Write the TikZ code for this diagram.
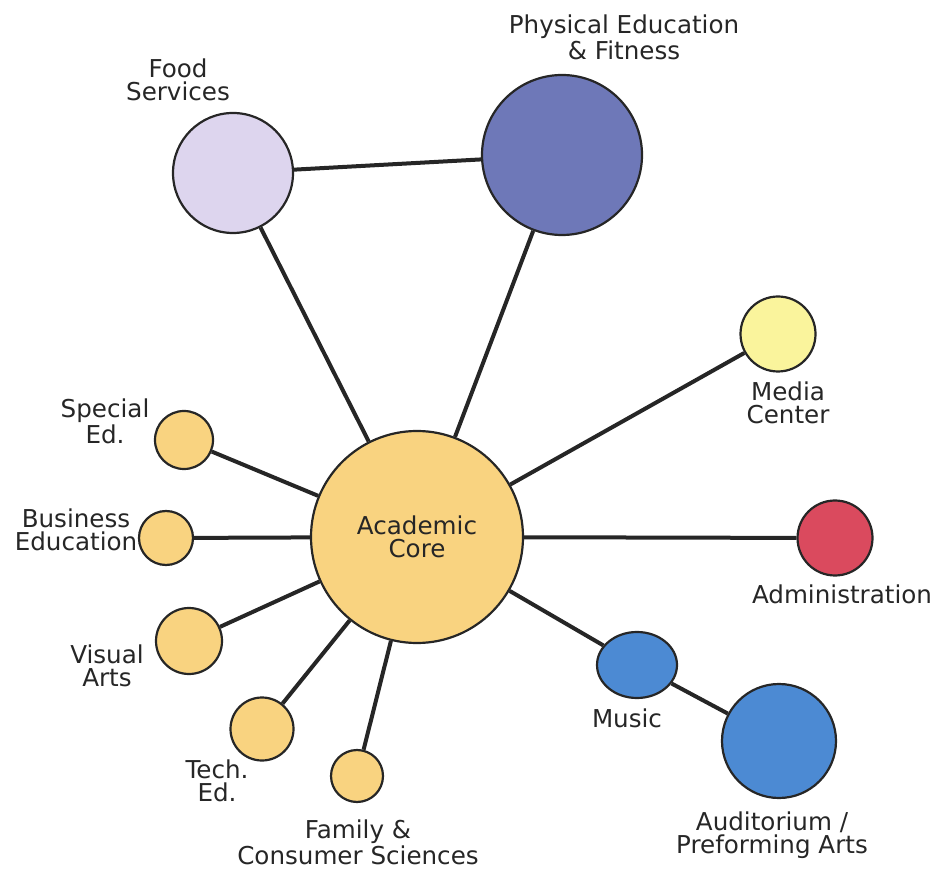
\documentclass[tikz,border=0pt]{standalone}
\usepackage{fontspec}
\setmainfont{DejaVu Sans}
\usetikzlibrary{shapes.geometric}
\definecolor{coreyellow}{RGB}{249,211,128}
\definecolor{lavender}{RGB}{221,213,238}
\definecolor{peblue}{RGB}{110,120,184}
\definecolor{mediayellow}{RGB}{250,244,156}
\definecolor{adminred}{RGB}{218,74,94}
\definecolor{musicblue}{RGB}{76,138,211}
\definecolor{ink}{RGB}{38,38,38}
\begin{document}
\begin{tikzpicture}[x=0.5pt,y=-0.5pt,
  room/.style={circle,draw=ink,line width=1.1pt,inner sep=0pt},
  lbl/.style={anchor=north,inner sep=0pt,align=center,text=ink,
              font=\fontsize{12.3}{11.6}\selectfont},
  link/.style={draw=ink,line width=2pt}]
\useasboundingbox (0,0) rectangle (941,870);
%\draw[help lines,step=50] (0,0) grid (941,870);
\node[room,fill=coreyellow,minimum size=106pt,text=ink,align=center,
      font=\fontsize{12.3}{11.6}\selectfont](core) at (417,537) {Academic\\Core};
\node[room,fill=lavender,minimum size=60pt]   (food)     at (233,173) {};
\node[room,fill=peblue,minimum size=80pt]     (pe)       at (562,155) {};
\node[room,fill=mediayellow,minimum size=37.5pt](media)  at (778,334) {};
\node[room,fill=adminred,minimum size=37.5pt] (admin)    at (835,538) {};
\node[room,ellipse,fill=musicblue,minimum width=40pt,minimum height=33pt]
                                              (music)    at (637,665) {};
\node[room,fill=musicblue,minimum size=57pt]  (audit)    at (779,741) {};
\node[room,fill=coreyellow,minimum size=29pt] (special)  at (184,440) {};
\node[room,fill=coreyellow,minimum size=27pt] (business) at (166,538) {};
\node[room,fill=coreyellow,minimum size=33pt] (visual)   at (189,641) {};
\node[room,fill=coreyellow,minimum size=31.5pt](tech)    at (262,729) {};
\node[room,fill=coreyellow,minimum size=26pt] (family)   at (357,776) {};

% labels
\node[lbl](food-txt)     at (178,58.5)  {Food\\Services};
\node[lbl](pe-txt)       at (624,14.5)  {Physical Education\\\& Fitness};
\node[lbl](media-txt)    at (788,381.5) {Media\\Center};
\node[lbl](admin-txt)    at (842,584.5) {Administration};
\node[lbl](music-txt)    at (627,708.5) {Music};
\node[lbl](audit-txt)    at (772,811.5) {Auditorium /\\Preforming Arts};
\node[lbl](special-txt)  at (105,398.5) {Special\\Ed.};
\node[lbl](business-txt) at (76,508.5)  {Business\\Education};
\node[lbl](visual-txt)   at (107,644.5) {Visual\\Arts};
\node[lbl](tech-txt)     at (217,759.5) {Tech.\\Ed.};
\node[lbl](family-txt)   at (358,819.5) {Family \&\\Consumer Sciences};

\draw[link] (food)  -- (pe);
\draw[link] (food)  -- (core);
\draw[link] (pe)    -- (core);
\draw[link] (core)  -- (media);
\draw[link] (core)  -- (admin);
\draw[link] (core)  -- (music);
\draw[link] (music) -- (audit);
\draw[link] (special)  -- (core);
\draw[link] (business) -- (core);
\draw[link] (visual)   -- (core);
\draw[link] (tech)     -- (core);
\draw[link] (family)   -- (core);
\end{tikzpicture}
\end{document}
